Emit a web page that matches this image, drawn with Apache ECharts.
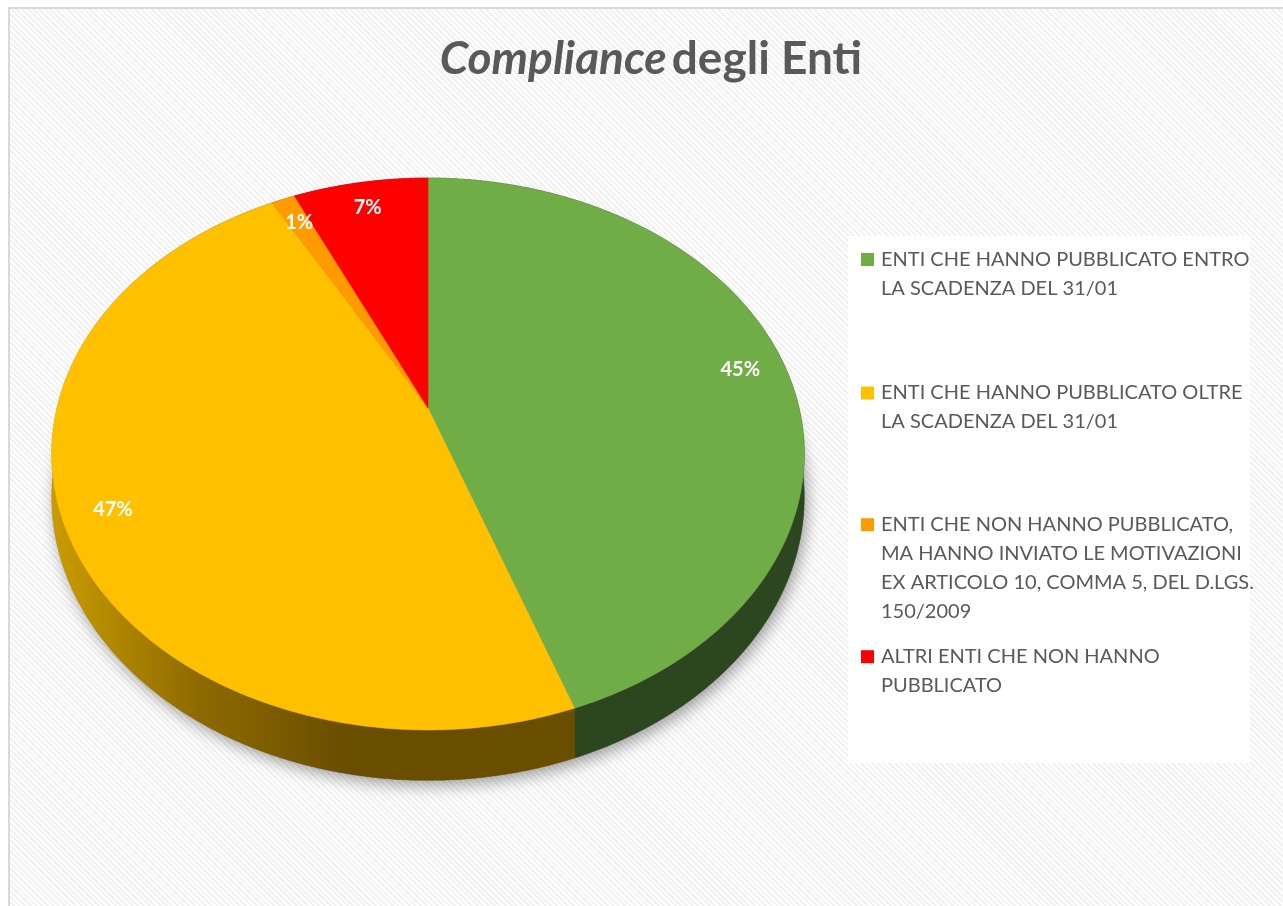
<!DOCTYPE html>
<html><head><meta charset="utf-8">
<script src="https://cdn.jsdelivr.net/npm/echarts@6/dist/echarts.min.js"></script>
<style>
html,body{margin:0;padding:0;background:#fff;}
#bg{position:absolute;left:8px;top:7px;width:1290px;height:920px;border-top:2px solid #d9d9d9;border-left:2px solid #d9d9d9;
background: repeating-linear-gradient(45deg, #ffffff 0px, #ffffff 2px, #f1f1f1 2px, #f1f1f1 4px);}
#chart{position:absolute;left:0;top:0;width:1283px;height:906px;}
</style></head>
<body>
<div id="bg"></div>
<div id="chart"></div>
<script>
const categories = [
  'ENTI CHE HANNO PUBBLICATO ENTRO LA SCADENZA DEL 31/01',
  'ENTI CHE HANNO PUBBLICATO OLTRE LA SCADENZA DEL 31/01',
  'ENTI CHE NON HANNO PUBBLICATO, MA HANNO INVIATO LE MOTIVAZIONI EX ARTICOLO 10, COMMA 5, DEL D.LGS. 150/2009',
  'ALTRI ENTI CHE NON HANNO PUBBLICATO'
];
const legendLines = [
  ['ENTI CHE HANNO PUBBLICATO ENTRO', 'LA SCADENZA DEL 31/01'],
  ['ENTI CHE HANNO PUBBLICATO OLTRE', 'LA SCADENZA DEL 31/01'],
  ['ENTI CHE NON HANNO PUBBLICATO,', 'MA HANNO INVIATO LE MOTIVAZIONI', 'EX ARTICOLO 10, COMMA 5, DEL D.LGS.', '150/2009'],
  ['ALTRI ENTI CHE NON HANNO', 'PUBBLICATO']
];
const values = [44.6, 47.4, 1.2, 6.8];
const titleParts = ['Compliance', 'degli Enti'];

const topColors = ['#70ad47', '#ffc000', '#ff9a00', '#ff0000'];
const wallColors = ['#2c4620', null, '#8a5200', '#8a0000'];

// projection of a tilted disc with perspective
const CX = 428, CY = 408, A = 371, B = 268.3, K = 0.1667, T = 42;
function proj(u, v, h) {
  const w = 1 - K * v;
  return [CX + A * u / w, CY + B * v / w + h * T / w];
}
const total = values.reduce((a, b) => a + b, 0);

function makeRender(i) {
  return function (params, api) {
    let start = 0;
    for (let j = 0; j < i; j++) start += values[j];
    const val = api.value(0);
    const a0 = start / total * Math.PI * 2;
    const a1 = (start + val) / total * Math.PI * 2;
    const N = Math.max(2, Math.ceil((a1 - a0) / (Math.PI / 360)));
    const rimTop = [], rimBot = [];
    for (let n = 0; n <= N; n++) {
      const t = a0 + (a1 - a0) * n / N;
      rimTop.push(proj(Math.sin(t), -Math.cos(t), 0));
      rimBot.push(proj(Math.sin(t), -Math.cos(t), 1));
    }
    const topPts = [proj(0, 0, 0)].concat(rimTop);
    const wallPts = rimTop.concat(rimBot.slice().reverse());
    let wallFill = wallColors[i];
    if (!wallFill) {
      wallFill = new echarts.graphic.LinearGradient(55, 0, 345, 0, [
        { offset: 0, color: '#c99b00' },
        { offset: 0.5, color: '#8d6a00' },
        { offset: 1, color: '#6a4e00' }
      ], true);
    }
    const children = [];
    if (i === 0) {
      const shadowPts = [];
      for (let n = 0; n < 360; n++) {
        const t = n / 360 * Math.PI * 2;
        shadowPts.push(proj(Math.sin(t), -Math.cos(t), 1));
      }
      children.push({
        type: 'polygon', z2: 0, silent: true,
        shape: { points: shadowPts },
        style: { fill: '#888', shadowBlur: 16, shadowOffsetX: 3, shadowOffsetY: 5, shadowColor: 'rgba(0,0,0,0.38)' }
      });
    }
    children.push({ type: 'polygon', z2: 2, shape: { points: wallPts }, style: { fill: wallFill, stroke: wallFill, lineWidth: 0.5 } });
    children.push({ type: 'polygon', z2: 5, shape: { points: topPts }, style: { fill: topColors[i], stroke: topColors[i], lineWidth: 0.5 } });
    const mid = (a0 + a1) / 2;
    const r = 0.875;
    const lp = proj(r * Math.sin(mid), -r * Math.cos(mid), 0);
    children.push({
      type: 'text', z2: 10, x: lp[0], y: lp[1],
      style: {
        text: Math.round(val / total * 100) + '%',
        fill: '#ffffff', fontSize: 20, fontWeight: 'bold', fontFamily: 'Lato',
        align: 'center', verticalAlign: 'middle'
      }
    });
    return { type: 'group', children: children };
  };
}

const LH = 29;
const iconCenters = [259.5, 393, 524.7, 656.7];
const legends = categories.map((c, i) => {
  const n = legendLines[i].length;
  const blanks = new Array(n - 1).fill('');
  return {
    data: [c], orient: 'vertical', left: 861, top: iconCenters[i] - 6.5 - (2 * n - 1) * LH / 2 + 6.5,
    padding: 0, itemWidth: 13, itemHeight: 13, icon: 'rect', selectedMode: false,
    formatter: () => blanks.concat(legendLines[i]).join('\n'),
    textStyle: {
      fontFamily: 'Lato', fontSize: 20, color: '#595959', lineHeight: LH,
      padding: [0, 0, 0, 2]
    }
  };
});

const chart = echarts.init(document.getElementById('chart'), null, { renderer: 'canvas' });
chart.setOption({
  backgroundColor: 'transparent',
  animation: false,
  title: {
    text: '{i|' + titleParts[0] + '} {b|' + titleParts[1] + '}',
    left: 651, top: 36, textAlign: 'center', padding: 0,
    textStyle: {
      rich: {
        i: { fontFamily: 'Lato', fontSize: 46, fontWeight: 'bold', fontStyle: 'italic', color: '#595959' },
        b: { fontFamily: 'Lato', fontSize: 46, fontWeight: 'bold', color: '#595959' }
      }
    }
  },
  legend: legends,
  graphic: [
    { type: 'rect', z: -1, shape: { x: 848, y: 236, width: 402, height: 527 }, style: { fill: '#ffffff' } }
  ],
  series: categories.map((c, i) => ({
    type: 'custom', name: c, coordinateSystem: 'none',
    itemStyle: { color: topColors[i] },
    renderItem: makeRender(i),
    data: [values[i]]
  }))
});
</script>
</body></html>
